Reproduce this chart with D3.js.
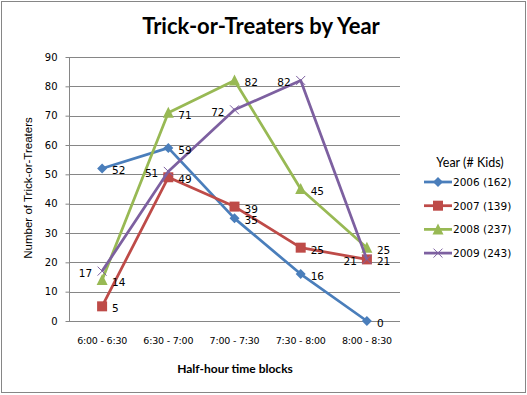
<!DOCTYPE html>
<html>
<head>
<meta charset="utf-8">
<script src="https://cdn.jsdelivr.net/npm/d3@7"></script>
<style>
  body { margin: 0; background: #fff; }
  svg { display: block; }
</style>
</head>
<body>
<div id="chart"></div>
<script>
// Chart data
var categories = ["6:00 - 6:30", "6:30 - 7:00", "7:00 - 7:30", "7:30 - 8:00", "8:00 - 8:30"];
var seriesNames = ["2006 (162)", "2007 (139)", "2008 (237)", "2009 (243)"];
var values2006 = [52, 59, 35, 16, 0];
var values2007 = [5, 49, 39, 25, 21];
var values2008 = [14, 71, 82, 45, 25];
var values2009 = [17, 51, 72, 82, 21];
var yTicks = [0, 10, 20, 30, 40, 50, 60, 70, 80, 90];

var svgWidth = 527;
var svgHeight = 395;

// Plot area
var margin = { top: 57, left: 69, right: 127, bottom: 74 };
var width = svgWidth - margin.left - margin.right;
var height = svgHeight - margin.top - margin.bottom;

var svg = d3.select("#chart")
    .append("svg")
    .attr("width", svgWidth)
    .attr("height", svgHeight);

// Outer frame
svg.append("rect")
    .attr("x", 1.5).attr("y", 1.5)
    .attr("width", svgWidth - 3).attr("height", svgHeight - 4)
    .attr("fill", "#fff")
    .attr("stroke", "#868686")
    .attr("stroke-width", 1);

var chartGroup = svg.append("g")
    .attr("transform", `translate(${margin.left}, ${margin.top})`);

var xScale = d3.scaleBand()
    .domain(categories)
    .range([0, width]);

var yScale = d3.scaleLinear()
    .domain([0, 90])
    .range([height, 0]);

// Gridlines
chartGroup.selectAll(".grid")
    .data(yTicks)
    .enter()
    .append("line")
    .attr("x1", 0)
    .attr("x2", width)
    .attr("y1", d => Math.round(yScale(d)) + 0.5)
    .attr("y2", d => Math.round(yScale(d)) + 0.5)
    .attr("stroke", "#868686")
    .attr("stroke-width", 1);

// Left axis
var leftAxis = d3.axisLeft(yScale)
    .tickValues(yTicks)
    .tickSize(4)
    .tickPadding(8);

var leftG = chartGroup.append("g")
    .attr("transform", "translate(0.5, 0)")
    .call(leftAxis);
leftG.select(".domain").attr("stroke", "#868686").attr("d", `M0,0V${height}`);
leftG.selectAll(".tick line").attr("stroke", "#868686");
leftG.selectAll("text")
    .attr("font-family", "DejaVu Sans")
    .attr("font-size", "10px")
    .attr("fill", "#000");

// Bottom axis
var bottomAxis = d3.axisBottom(xScale)
    .tickSize(0)
    .tickPadding(16);

var bottomG = chartGroup.append("g")
    .attr("transform", `translate(0, ${height + 0.5})`)
    .call(bottomAxis);
bottomG.select(".domain").attr("stroke", "#868686").attr("d", `M0,0H${width}`);
bottomG.selectAll("text")
    .attr("font-family", "DejaVu Sans")
    .attr("font-size", "9.5px")
    .attr("letter-spacing", "-0.2px")
    .attr("fill", "#000");

// Series
var series = [
    { name: seriesNames[0], values: values2006, color: "#4A7EBB", marker: "diamond", labelSide: 1 },
    { name: seriesNames[1], values: values2007, color: "#BE4B48", marker: "square", labelSide: 1 },
    { name: seriesNames[2], values: values2008, color: "#98B954", marker: "triangle", labelSide: 1 },
    { name: seriesNames[3], values: values2009, color: "#7D60A0", marker: "x", labelSide: -1 }
];

var cx = c => xScale(c) + xScale.bandwidth() / 2;

var line = d3.line()
    .x((d, i) => cx(categories[i]))
    .y(d => yScale(d));

function drawMarker(g, type, color) {
    if (type === "diamond") {
        g.append("path").attr("d", "M0,-5L5,0L0,5L-5,0Z").attr("fill", color);
    } else if (type === "square") {
        g.append("rect").attr("x", -5).attr("y", -5).attr("width", 10).attr("height", 10).attr("fill", color);
    } else if (type === "triangle") {
        g.append("path").attr("d", "M0,-6L5.5,5L-5.5,5Z").attr("fill", color);
    } else {
        g.append("path").attr("d", "M-4.5,-4.5L4.5,4.5M-4.5,4.5L4.5,-4.5")
            .attr("stroke", color).attr("stroke-width", 1).attr("fill", "none");
    }
}

series.forEach(s => {
    chartGroup.append("path")
        .datum(s.values)
        .attr("d", line)
        .attr("fill", "none")
        .attr("stroke", s.color)
        .attr("stroke-width", 2.75)
        .attr("stroke-linejoin", "round");

    s.values.forEach((v, i) => {
        var m = chartGroup.append("g")
            .attr("transform", `translate(${cx(categories[i])}, ${yScale(v)})`);
        drawMarker(m, s.marker, s.color);
    });
});

// Data labels
series.forEach(s => {
    chartGroup.selectAll(null)
        .data(s.values)
        .enter()
        .append("text")
        .attr("x", (d, i) => cx(categories[i]) + s.labelSide * 10)
        .attr("y", d => yScale(d) + 6)
        .attr("text-anchor", s.labelSide > 0 ? "start" : "end")
        .attr("font-family", "DejaVu Sans")
        .attr("font-size", "10.5px")
        .attr("fill", "#000")
        .text(d => d);
});

// Title
svg.append("text")
    .attr("x", 261)
    .attr("y", 34)
    .attr("text-anchor", "middle")
    .attr("font-family", "Lato")
    .attr("font-weight", "bold")
    .attr("font-size", "22px")
    .text("Trick-or-Treaters by Year");

// Axis titles
svg.append("text")
    .attr("x", 235)
    .attr("y", 373)
    .attr("text-anchor", "middle")
    .attr("font-family", "Lato")
    .attr("font-weight", "bold")
    .attr("font-size", "12px")
    .text("Half-hour  time blocks");

svg.append("text")
    .attr("transform", `translate(32, 188) rotate(-90)`)
    .attr("text-anchor", "middle")
    .attr("font-family", "Liberation Sans")
    .attr("font-size", "11.5px")
    .attr("fill", "#000")
    .text("Number of Trick-or-Treaters");

// Legend
svg.append("text")
    .attr("x", 470)
    .attr("y", 167)
    .attr("text-anchor", "middle")
    .attr("font-family", "Lato")
    .attr("font-size", "12.5px")
    .text("Year (# Kids)");

var legend = svg.selectAll(".legend")
    .data(series)
    .enter()
    .append("g")
    .attr("transform", (d, i) => `translate(424, ${182 + i * 23.7})`);

legend.append("line")
    .attr("x1", 0).attr("x2", 28)
    .attr("y1", 0).attr("y2", 0)
    .attr("stroke", d => d.color)
    .attr("stroke-width", 2.75);

legend.each(function(d) {
    var m = d3.select(this).append("g").attr("transform", "translate(14, 0)");
    drawMarker(m, d.marker, d.color);
});

legend.append("text")
    .attr("x", 29)
    .attr("y", 4)
    .attr("font-family", "DejaVu Sans")
    .attr("font-size", "10.5px")
    .attr("fill", "#000")
    .text(d => d.name);
</script>
</body>
</html>
